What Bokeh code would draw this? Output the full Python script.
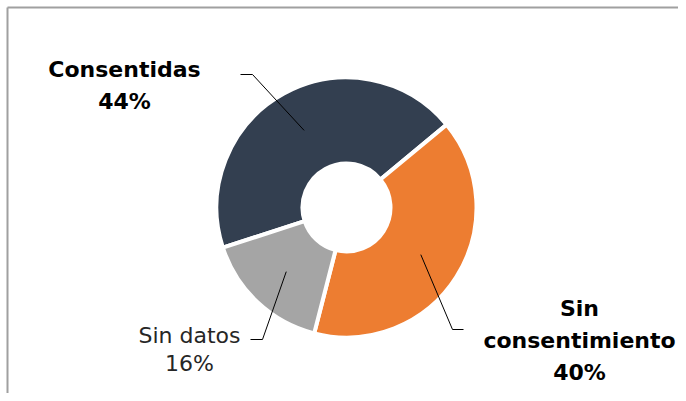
import math
from bokeh.plotting import figure
from bokeh.models import Range1d
from bokeh.core.properties import value
from bokeh.embed import file_html
from bokeh.resources import INLINE

# ---- data ----
categories = ["Consentidas", "Sin consentimiento", "Sin datos"]
values = [44, 40, 16]
colors = ["#333F50", "#ED7D31", "#A5A5A5"]
bold = [True, True, False]

W, H = 678, 393
p = figure(width=W, height=H, output_backend="svg", toolbar_location=None,
           x_range=Range1d(0, W), y_range=Range1d(0, H), min_border=0)
p.axis.visible = False
p.grid.visible = False
p.outline_line_color = None
p.background_fill_color = "white"
p.border_fill_color = "white"

def px(x):
    return x
def py(y):
    return H - y

# border (top & left)
p.line([px(7), px(700)], [py(7), py(7)], line_color="#A0A0A0", line_width=2)
p.line([px(7), px(7)], [py(7), py(420)], line_color="#A0A0A0", line_width=2)

cx, cy = px(346), py(207)
r_in, r_out = 44, 130
start = math.radians(198)
total = sum(values)
starts, ends, mids = [], [], []
a = start
for v in values:
    span = 2 * math.pi * v / total
    starts.append(a)
    ends.append(a - span)
    mids.append(a - span / 2)
    a -= span

p.annular_wedge(x=[cx] * 3, y=[cy] * 3, inner_radius=r_in, outer_radius=r_out,
                inner_radius_units="screen", outer_radius_units="screen",
                start_angle=starts, end_angle=ends, direction="clock",
                fill_color=colors, line_color="white", line_width=4)

# leader lines: anchor at mid radius of each slice
r_mid = 88
elbows = [(252, 74), (452, 329), (262, 339)]
ends_h = [(240, 74), (463, 329), (250, 339)]
for m, (ex, ey), (hx, hy) in zip(mids, elbows, ends_h):
    ax = cx + r_mid * math.cos(m)
    ay = cy + r_mid * math.sin(m)
    p.line([ax, px(ex), px(hx)], [ay, py(ey), py(hy)], line_color="black", line_width=1)

# labels
label_pos = [
    (124, [69, 101], ["Consentidas"]),
    (579, [308, 340, 372], ["Sin", "consentimiento"]),
    (189, [335, 363], ["Sin datos"]),
]
for (lx, baselines, words), v, b in zip(label_pos, values, bold):
    lines = words + [f"{v}%"]
    p.text(x=[px(lx)] * len(lines), y=[py(yb) for yb in baselines], text=lines,
           text_align="center", text_baseline="alphabetic",
           text_font=value("DejaVu Sans"),
           text_font_size="22px",
           text_font_style="bold" if b else "normal",
           text_color="black" if b else "#262626")

open("out.html", "w").write(file_html(p, INLINE))
